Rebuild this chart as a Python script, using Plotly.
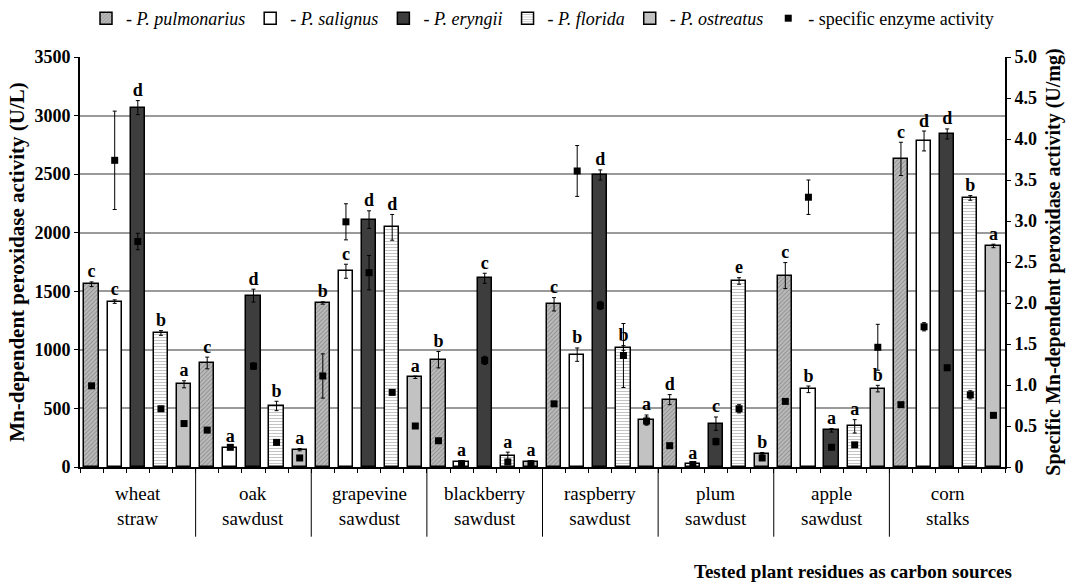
import plotly.graph_objects as go

# --- dados ---
grupos = ["wheat<br>straw", "oak<br>sawdust", "grapevine<br>sawdust", "blackberry<br>sawdust",
          "raspberry<br>sawdust", "plum<br>sawdust", "apple<br>sawdust", "corn<br>stalks"]

especies = ["P. pulmonarius", "P. salignus", "P. eryngii", "P. florida", "P. ostreatus"]

# atividade MnP (U/L) por espécie, na ordem dos grupos
pulmonarius = [1560, 888, 1400, 916, 1389, 575, 1634, 2630]
salignus = [1412, 162, 1671, 43, 959, 23, 663, 2783]
eryngii = [3068, 1463, 2112, 1611, 2493, 370, 313, 2843]
florida = [1144, 521, 2046, 97, 1016, 1588, 347, 2297]
ostreatus = [706, 148, 766, 43, 404, 114, 669, 1887]

pulmonarius_err = [20, 50, 10, 70, 57, 43, 111, 142]
salignus_err = [15, 10, 60, 10, 57, 10, 28, 85]
eryngii_err = [60, 55, 75, 43, 43, 57, 15, 43]
florida_err = [20, 40, 110, 30, 20, 28, 57, 20]
ostreatus_err = [30, 10, 10, 10, 40, 10, 28, 15]

# atividade específica (U/mg)
spec_pulmonarius = [0.99, 0.45, 1.11, 0.32, 0.77, 0.26, 0.80, 0.76]
spec_salignus = [3.74, 0.24, 2.99, 0.04, 3.61, 0.03, 3.29, 1.71]
spec_eryngii = [2.75, 1.23, 2.37, 1.30, 1.97, 0.31, 0.24, 1.21]
spec_florida = [0.71, 0.30, 0.91, 0.06, 1.36, 0.71, 0.27, 0.88]
spec_ostreatus = [0.53, 0.11, 0.50, 0.04, 0.56, 0.11, 1.46, 0.63]

spec_pulmonarius_err = [0.02, 0.02, 0.27, 0.02, 0.03, 0.02, 0.02, 0.02]
spec_salignus_err = [0.60, 0.02, 0.22, 0.02, 0.31, 0.02, 0.21, 0.05]
spec_eryngii_err = [0.10, 0.04, 0.21, 0.05, 0.05, 0.04, 0.02, 0.03]
spec_florida_err = [0.03, 0.02, 0.03, 0.02, 0.39, 0.05, 0.02, 0.05]
spec_ostreatus_err = [0.02, 0.02, 0.02, 0.02, 0.05, 0.02, 0.28, 0.02]

# letras de significância
letras_pulmonarius = ["c", "c", "b", "b", "c", "d", "c", "c"]
letras_salignus = ["c", "a", "c", "a", "b", "a", "b", "d"]
letras_eryngii = ["d", "d", "d", "c", "d", "c", "a", "d"]
letras_florida = ["b", "b", "d", "a", "b", "e", "a", "b"]
letras_ostreatus = ["a", "a", "a", "a", "a", "b", "b", "a"]

valores = [pulmonarius, salignus, eryngii, florida, ostreatus]
erros = [pulmonarius_err, salignus_err, eryngii_err, florida_err, ostreatus_err]
especificos = [spec_pulmonarius, spec_salignus, spec_eryngii, spec_florida, spec_ostreatus]
especificos_err = [spec_pulmonarius_err, spec_salignus_err, spec_eryngii_err, spec_florida_err, spec_ostreatus_err]
letras = [letras_pulmonarius, letras_salignus, letras_eryngii, letras_florida, letras_ostreatus]

# --- estilos ---
FONTE = "Liberation Serif"
n_esp = len(especies)
n_grp = len(grupos)

estilos = [
    dict(color="#aaaaaa", pattern=dict(shape="/", fgcolor="#5a5a5a", bgcolor="#bbbbbb", size=3, solidity=0.3)),
    dict(color="white"),
    dict(color="#3d3d3d"),
    dict(color="white", pattern=dict(shape="-", fgcolor="#8a8a8a", bgcolor="white", size=3, solidity=0.35)),
    dict(color="#c2c2c2"),
]

fig = go.Figure()

for i in range(n_esp):
    xs = [g * n_esp + i for g in range(n_grp)]
    fig.add_trace(go.Bar(
        x=xs, y=valores[i], width=0.62,
        name="- <i>" + especies[i] + "</i>",
        marker=dict(line=dict(color="black", width=1.5), **estilos[i]),
        error_y=dict(type="data", array=erros[i], color="black", thickness=1, width=2),
    ))

# letras acima das barras
for i in range(n_esp):
    xs = [g * n_esp + i for g in range(n_grp)]
    fig.add_trace(go.Scatter(
        x=xs, y=[v + e for v, e in zip(valores[i], erros[i])],
        mode="text", text=letras[i], textposition="top center",
        textfont=dict(family=FONTE, size=18, color="black", weight="bold"),
        showlegend=False, hoverinfo="skip", cliponaxis=False,
    ))

# atividade específica (eixo direito)
xs_spec, ys_spec, es_spec = [], [], []
for g in range(n_grp):
    for i in range(n_esp):
        xs_spec.append(g * n_esp + i)
        ys_spec.append(especificos[i][g])
        es_spec.append(especificos_err[i][g])

fig.add_trace(go.Scatter(
    x=xs_spec, y=ys_spec, yaxis="y2", mode="markers",
    name="- specific enzyme activity",
    marker=dict(symbol="square", size=7, color="black"),
    error_y=dict(type="data", array=es_spec, color="black", thickness=1, width=2),
))

# linhas separadoras dos grupos e rótulos
for g in range(n_grp):
    if g > 0:
        fig.add_shape(type="line", xref="x", yref="paper",
                      x0=g * n_esp - 0.5, x1=g * n_esp - 0.5, y0=0, y1=-0.17,
                      line=dict(color="black", width=1))
    fig.add_annotation(x=g * n_esp + 2, y=-0.035, xref="x", yref="paper",
                       text=grupos[g], showarrow=False, yanchor="top",
                       font=dict(family=FONTE, size=19, color="black"))

fig.add_annotation(x=1.01, y=-0.256, xref="paper", yref="paper", xanchor="right", yanchor="middle",
                   text="<b>Tested plant residues as carbon sources</b>", showarrow=False,
                   font=dict(family=FONTE, size=19, color="black"))

eixo_fonte = dict(family=FONTE, size=18, color="black")

fig.update_layout(
    width=1079, height=584,
    margin=dict(l=80, r=74, t=57, b=117),
    plot_bgcolor="white", paper_bgcolor="white",
    barmode="overlay", bargap=0,
    font=dict(family=FONTE, color="black"),
    showlegend=True,
    legend=dict(orientation="h", x=0.5, xanchor="center", yref="container", y=1.0, yanchor="top",
                font=dict(family=FONTE, size=18, color="black"),
                itemwidth=30, tracegroupgap=0, bgcolor="rgba(0,0,0,0)"),
    xaxis=dict(
        range=[-0.5, n_grp * n_esp - 0.5], automargin=False,
        tickvals=[k - 0.5 for k in range(n_grp * n_esp + 1)],
        ticktext=["" for k in range(n_grp * n_esp + 1)],
        ticks="outside", ticklen=4, tickwidth=1, tickcolor="black",
        showline=True, linecolor="black", linewidth=2, showgrid=False, zeroline=False,
    ),
    yaxis=dict(
        range=[0, 3500], automargin=False, tickvals=list(range(0, 3501, 500)),
        ticktext=["<b>%d</b>" % v for v in range(0, 3501, 500)],
        ticks="outside", ticklen=4, tickcolor="black",
        showline=True, linecolor="black", linewidth=2,
        showgrid=True, gridcolor="#9a9a9a", gridwidth=1.5, zeroline=False,
        tickfont=eixo_fonte,
        title=dict(text="<b>Mn-dependent peroxidase activity (U/L)</b>",
                   font=dict(family=FONTE, size=21, color="black"), standoff=4),
    ),
    yaxis2=dict(
        range=[0, 5], overlaying="y", side="right", automargin=False,
        tickvals=[k * 0.5 for k in range(11)],
        ticktext=["<b>0</b>"] + ["<b>%.1f</b>" % (k * 0.5) for k in range(1, 11)],
        ticks="outside", ticklen=4, tickcolor="black",
        showline=True, linecolor="black", linewidth=2, showgrid=False, zeroline=False,
        tickfont=eixo_fonte,
        title=dict(text="<b>Specific Mn-dependent peroxidase activity (U/mg)</b>",
                   font=dict(family=FONTE, size=20, color="black"), standoff=10),
    ),
)

# tira a margem padrão do body para a figura ocupar a janela inteira
fig.write_html("out.html", config={"displayModeBar": False},
               post_script="document.body.style.margin='0';")
